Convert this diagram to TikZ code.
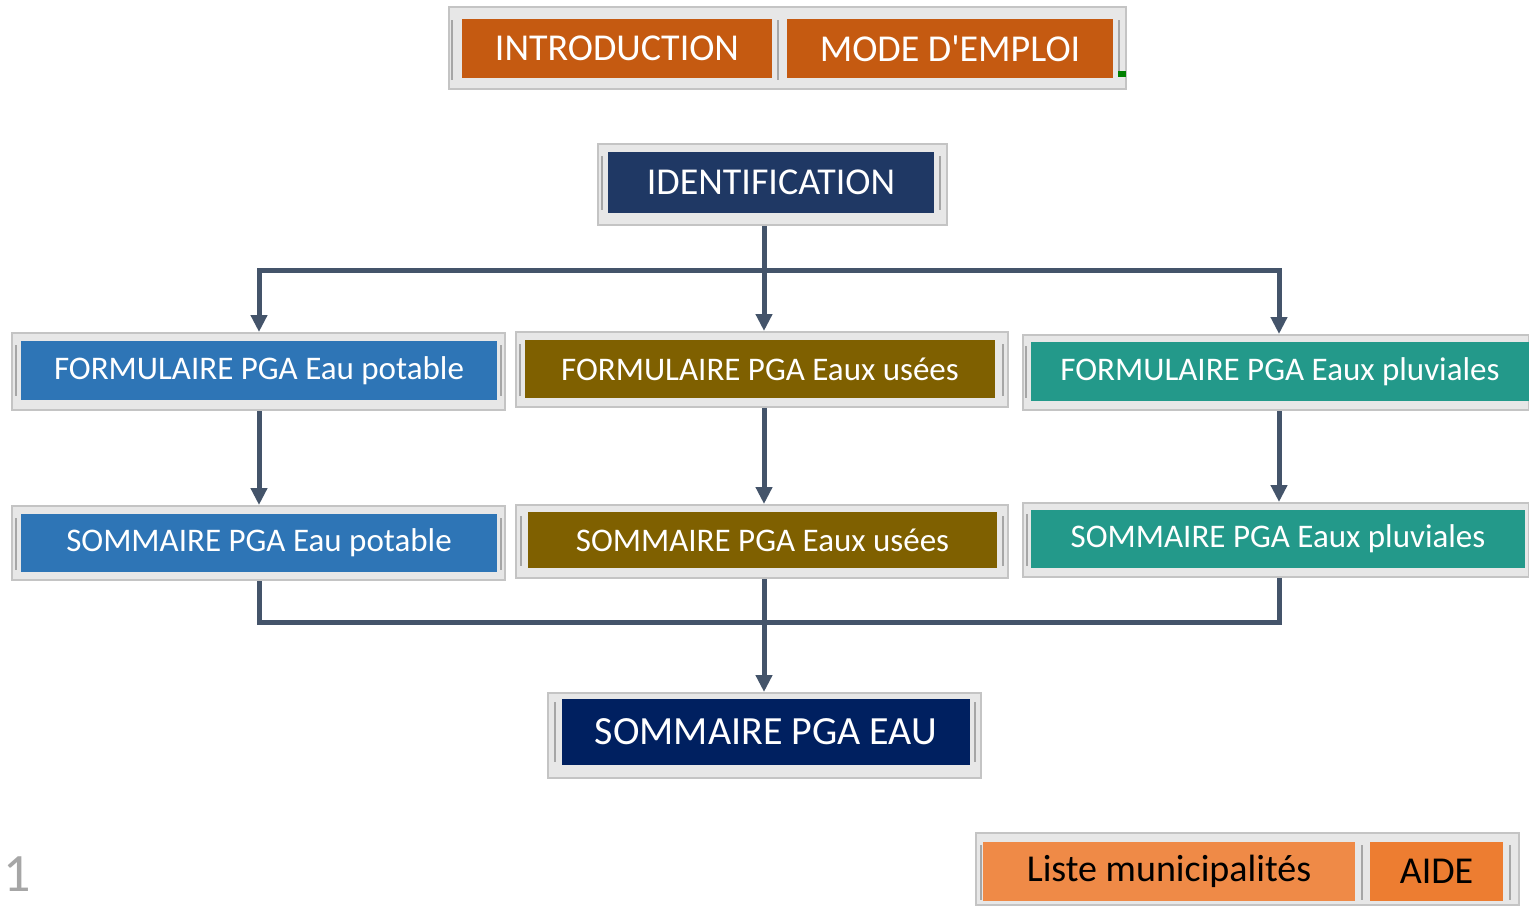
\documentclass[tikz,border=0pt]{standalone}
\usepackage{fontspec}
\setmainfont{Carlito}[Ligatures=TeXOff]
\usepackage{tikz}
\usetikzlibrary{arrows.meta}
\definecolor{orangefonce}{HTML}{C55A11}
\definecolor{orangeclair}{HTML}{EF8A47}
\definecolor{orangeaide}{HTML}{ED7D31}
\definecolor{bleunuit}{HTML}{1F3864}
\definecolor{bleumarine}{HTML}{002060}
\definecolor{bleupotable}{HTML}{2E75B6}
\definecolor{brunusees}{HTML}{7F6000}
\definecolor{vertpluie}{HTML}{23998A}
\definecolor{ardoise}{HTML}{44546A}
\definecolor{cadrefond}{HTML}{E7E7E7}
\definecolor{cadretrait}{HTML}{C4C4C4}
\definecolor{barregris}{HTML}{A6A6A6}
\tikzstyle{cadre} = [rectangle, fill=cadrefond, draw=cadretrait, line width=1pt, inner sep=0pt]
\tikzstyle{bouton} = [rectangle, inner sep=0pt, text=white, font=\fontsize{19}{22}\selectfont]
\tikzstyle{petit} = [font=\fontsize{16.5}{20}\selectfont]
\tikzstyle{lien} = [line width=2.5pt, draw=ardoise, line join=miter]
\tikzstyle{fleche} = [lien, -{Triangle[width=8pt,length=8.5pt]}]
\tikzstyle{barre} = [line width=1pt, draw=barregris]

\begin{document}
\begin{tikzpicture}[x=0.5pt, y=-0.5pt]
\useasboundingbox (0,0) rectangle (1529,906);

% cadres gris
\node (cHaut) [cadre, minimum width=338.5pt, minimum height=41pt] at (787.5,48) {};
\node (cIdent) [cadre, minimum width=174.5pt, minimum height=40.5pt] at (772.5,184.5) {};
\node (cFormEP) [cadre, minimum width=246.5pt, minimum height=38.5pt] at (258.5,371.5) {};
\node (cFormEU) [cadre, minimum width=246pt, minimum height=37.5pt] at (762,369.5) {};
\node (cFormPl) [cadre, minimum width=253pt, minimum height=37.5pt] at (1276,372.5) {};
\node (cSommEP) [cadre, minimum width=246.5pt, minimum height=37pt] at (258.5,543) {};
\node (cSommEU) [cadre, minimum width=246pt, minimum height=36.5pt] at (762,541.5) {};
\node (cSommPl) [cadre, minimum width=253pt, minimum height=37pt] at (1276,540) {};
\node (cSommEau) [cadre, minimum width=216.5pt, minimum height=42.5pt] at (764.5,735.5) {};
\node (cBas) [cadre, minimum width=271.5pt, minimum height=36pt] at (1247.5,869) {};

% petites barres
\foreach \x/\ya/\yb in {452/20/80, 778/20/80, 1119/20/72, 602/156/210, 940/156/210,
  16/345/396, 501/345/396, 520/344/396, 1003/344/396, 1026/346/398,
  16/518/570, 501/518/570, 521/516/566, 1003/516/566, 1027/514/566,
  555/702/762, 975/702/762, 981/845/900, 1362/845/900, 1510/845/900}
  \draw[barre] (\x,\ya) -- (\x,\yb);
\fill[green!50!black] (1118,71) rectangle (1126,77);

% boutons
\node (intro) [bouton, fill=orangefonce, minimum width=155pt, minimum height=29.5pt] at (617,48.5) {INTRODUCTION};
\node (mode) [bouton, fill=orangefonce, minimum width=163pt, minimum height=29.5pt] at (950,48.5) {MODE D'EMPLOI};
\node (ident) [bouton, fill=bleunuit, minimum width=163pt, minimum height=30.5pt] at (771,182.5) {IDENTIFICATION};
\node (formEP) [bouton, petit, fill=bleupotable, minimum width=238pt, minimum height=29.5pt] at (259,370.5) {FORMULAIRE PGA Eau potable};
\node (formEU) [bouton, petit, fill=brunusees, minimum width=235pt, minimum height=29pt] at (760,369) {FORMULAIRE PGA Eaux usées};
\node (formPl) [bouton, petit, fill=vertpluie, minimum width=249pt, minimum height=29.5pt] at (1280,371.5) {FORMULAIRE PGA Eaux pluviales};
\node (sommEP) [bouton, petit, fill=bleupotable, minimum width=238pt, minimum height=29pt] at (259,543) {SOMMAIRE PGA Eau potable};
\node (sommEU) [bouton, petit, fill=brunusees, minimum width=234.5pt, minimum height=28pt] at (762.5,540) {SOMMAIRE PGA Eaux usées};
\node (sommPl) [bouton, petit, fill=vertpluie, minimum width=247pt, minimum height=29pt] at (1278,539) {SOMMAIRE PGA Eaux pluviales};
\node (sommEau) [bouton, fill=bleumarine, minimum width=204pt, minimum height=33pt, font=\fontsize{20}{24}\selectfont] at (766,732) {SOMMAIRE PGA EAU};
\node (liste) [bouton, fill=orangeclair, text=black, minimum width=186pt, minimum height=29.5pt] at (1169,871.5) {Liste municipalités};
\node (aide) [bouton, fill=orangeaide, text=black, minimum width=66.5pt, minimum height=29.5pt] at (1436.5,871.5) {AIDE};

\node (page) [text=barregris, inner sep=0pt, font=\fontsize{27}{30}\selectfont] at (17,874) {1};

% liens
\coordinate (hautG) at (259,270);
\coordinate (hautM) at (764,270);
\coordinate (hautD) at (1279,270);
\coordinate (basG) at (259,622);
\coordinate (basM) at (764,622);
\coordinate (basD) at (1279,622);

\draw [fleche] (hautM) -| (cFormEP.north -| hautG);
\draw [fleche] (hautM) -| (cFormPl.north -| hautD);
\draw [fleche] (cIdent.south -| hautM) -- (cFormEU.north -| hautM);
\draw [fleche] (cFormEP.south -| hautG) -- (cSommEP.north -| hautG);
\draw [fleche] (cFormEU.south -| hautM) -- (cSommEU.north -| hautM);
\draw [fleche] (cFormPl.south -| hautD) -- (cSommPl.north -| hautD);
\draw [lien] (cSommEP.south -| basG) |- (basM) -| (cSommPl.south -| basD);
\draw [fleche] (cSommEU.south -| basM) -- (cSommEau.north -| basM);
\end{tikzpicture}
\end{document}
